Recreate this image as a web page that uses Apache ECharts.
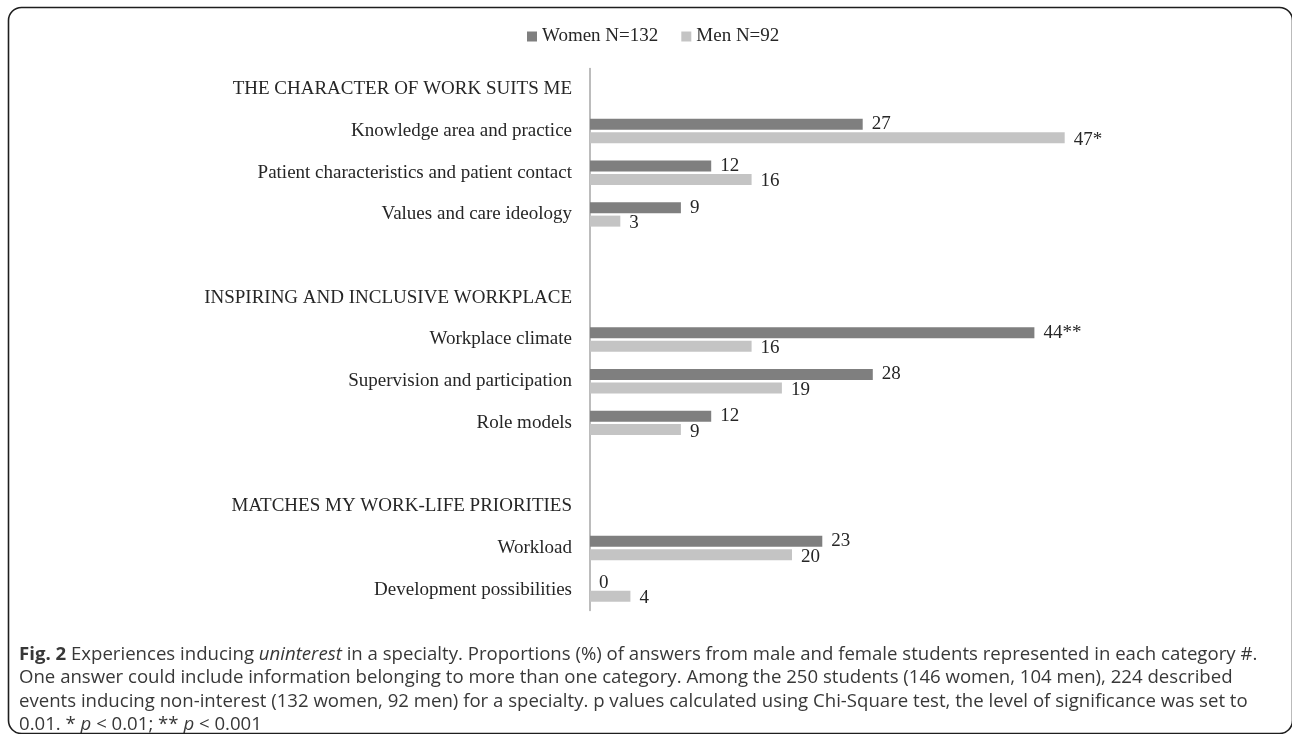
<!DOCTYPE html>
<html>
<head>
<meta charset="utf-8">
<style>
html,body{margin:0;padding:0;background:#fff;}
#chart{width:1292px;height:734px;}
</style>
<script src="https://cdn.jsdelivr.net/npm/echarts@6/dist/echarts.min.js"></script>
</head>
<body>
<div id="chart"></div>
<script>
const categories = [
  'THE CHARACTER OF WORK SUITS ME',
  'Knowledge area and practice',
  'Patient characteristics and patient contact',
  'Values and care ideology',
  ' ',
  'INSPIRING AND INCLUSIVE WORKPLACE',
  'Workplace climate',
  'Supervision and participation',
  'Role models',
  '  ',
  'MATCHES MY WORK-LIFE PRIORITIES',
  'Workload',
  'Development possibilities'
];
const seriesNames = ['Women N=132', 'Men N=92'];
const women = [null, 27, 12, 9, null, null, 44, 28, 12, null, null, 23, 0];
const men   = [null, 47, 16, 3, null, null, 16, 19, 9, null, null, 20, 4];
const womenLabels = ['', '27', '12', '9', '', '', '44**', '28', '12', '', '', '23', '0'];
const menLabels   = ['', '47*', '16', '3', '', '', '16', '19', '9', '', '', '20', '4'];

const SERIF = '"Liberation Serif", "Times New Roman", serif';
const SANS = '"Open Sans", "Noto Sans", sans-serif';
const CAP = 18.6;
const LH = 23.3;

const chart = echarts.init(document.getElementById('chart'), null, {renderer: 'canvas'});
chart.setOption({
  animation: false,
  backgroundColor: '#fff',
  title: {
    left: 14,
    top: 638,
    text: '{b|Fig. 2} Experiences inducing {i|uninterest} in a specialty. Proportions (%) of answers from male and female students represented in each category #.\n' +
          'One answer could include information belonging to more than one category. Among the 250 students (146 women, 104 men), 224 described\n' +
          'events inducing non-interest (132 women, 92 men) for a specialty. p values calculated using Chi-Square test, the level of significance was set to\n' +
          '0.01. * {i|p} < 0.01; ** {i|p} < 0.001',
    textStyle: {
      fontFamily: SANS,
      fontSize: CAP,
      fontWeight: 'normal',
      color: '#383838',
      lineHeight: LH,
      rich: {
        b: {fontFamily: SANS, fontSize: CAP, fontWeight: 'bold', color: '#383838', lineHeight: LH},
        i: {fontFamily: SANS, fontSize: CAP, fontStyle: 'italic', color: '#383838', lineHeight: LH}
      }
    }
  },
  graphic: [{
    type: 'rect',
    shape: {x: 8.5, y: 7.5, width: 1284, height: 726, r: 13},
    style: {fill: 'none', stroke: '#1e1e1e', lineWidth: 1.6},
    silent: true,
    z: 100
  }],
  legend: {
    top: 22,
    left: 522,
    itemWidth: 10,
    itemHeight: 10,
    itemGap: 23,
    icon: 'rect',
    textStyle: {fontFamily: SERIF, fontSize: 19, color: '#262626'},
    data: seriesNames
  },
  grid: {left: 590, top: 68.5, width: 505, height: 542, containLabel: false},
  xAxis: {
    type: 'value', min: 0, max: 50, show: false,
    splitLine: {show: false}
  },
  yAxis: {
    type: 'category',
    inverse: true,
    data: categories,
    axisTick: {show: false},
    axisLine: {show: true, lineStyle: {color: '#a6a6a6', width: 1.5}},
    axisLabel: {margin: 18, fontFamily: SERIF, fontSize: 19, color: '#262626'},
    splitLine: {show: false}
  },
  series: [
    {
      name: seriesNames[0],
      type: 'bar',
      data: women,
      barWidth: 11,
      barGap: '22%',
      itemStyle: {color: '#7f7f7f'},
      label: {
        show: true, position: 'right', distance: 9,
        fontFamily: SERIF, fontSize: 19, color: '#262626',
        formatter: p => womenLabels[p.dataIndex]
      }
    },
    {
      name: seriesNames[1],
      type: 'bar',
      data: men,
      barWidth: 11,
      barGap: '22%',
      itemStyle: {color: '#c4c4c4'},
      label: {
        show: true, position: 'right', distance: 9, offset: [0, 2],
        fontFamily: SERIF, fontSize: 19, color: '#262626',
        formatter: p => menLabels[p.dataIndex]
      }
    }
  ]
});
</script>
</body>
</html>
